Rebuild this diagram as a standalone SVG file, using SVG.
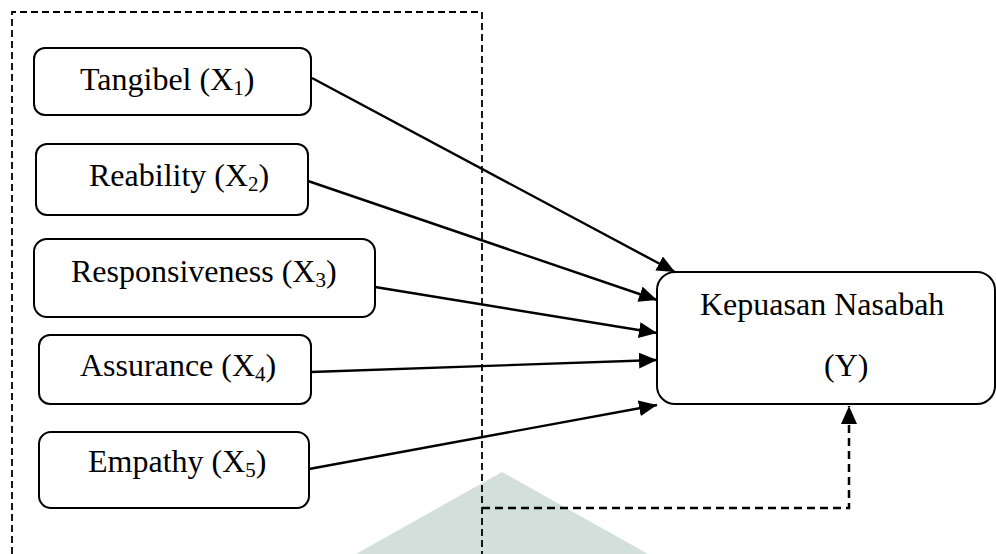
<svg xmlns="http://www.w3.org/2000/svg" width="996" height="554" viewBox="0 0 996 554">
<style>
.box{fill:#fff;stroke:#000;stroke-width:2}
.lbl{font-family:"Liberation Serif","Times New Roman",serif;font-size:32px;fill:#000}
.sub{font-size:21px}
.frame{fill:none;stroke:#000;stroke-width:1.8;stroke-dasharray:7,4}
.edge{fill:none;stroke:#000;stroke-width:2.4}
.dedge{fill:none;stroke:#000;stroke-width:2.5;stroke-dasharray:8,5}
</style>
<defs>
<marker id="ah" markerWidth="18" markerHeight="16" refX="18" refY="8" orient="auto" markerUnits="userSpaceOnUse">
<path d="M0,0 L18,8 L0,16 Z" fill="#000"/>
</marker>
</defs>
<rect width="996" height="554" fill="#fff"/>
<polygon points="502,472 648,554 356,554" fill="#d3dfdb"/>
<path class="frame" d="M12,554 L12,12 L482,12 L482,554"/>
<g id="n1">
<rect class="box" x="34" y="48" width="277" height="67" rx="11"/>
<text class="lbl" x="80" y="90">Tangibel (X<tspan class="sub" dy="5">1</tspan><tspan dy="-5">)</tspan></text>
</g>
<g id="n2">
<rect class="box" x="36" y="144" width="272" height="71" rx="11"/>
<text class="lbl" x="89" y="186">Reability (X<tspan class="sub" dy="5">2</tspan><tspan dy="-5">)</tspan></text>
</g>
<g id="n3">
<rect class="box" x="34" y="239" width="341" height="78" rx="13"/>
<text class="lbl" x="71" y="282">Responsiveness (X<tspan class="sub" dy="5">3</tspan><tspan dy="-5">)</tspan></text>
</g>
<g id="n4">
<rect class="box" x="39" y="335" width="272" height="69" rx="11"/>
<text class="lbl" x="80" y="376">Assurance (X<tspan class="sub" dy="5">4</tspan><tspan dy="-5">)</tspan></text>
</g>
<g id="n5">
<rect class="box" x="39" y="432" width="270" height="76" rx="12"/>
<text class="lbl" x="88" y="472">Empathy (X<tspan class="sub" dy="5">5</tspan><tspan dy="-5">)</tspan></text>
</g>
<g id="y">
<rect class="box" x="657" y="272" width="338" height="132" rx="18"/>
<text class="lbl" x="700" y="315">Kepuasan Nasabah</text>
<text class="lbl" x="824" y="376">(Y)</text>
</g>
<g id="connectors">
<line class="edge" x1="312" y1="78" x2="675" y2="272" marker-end="url(#ah)"/>
<line class="edge" x1="308" y1="181" x2="657" y2="300" marker-end="url(#ah)"/>
<line class="edge" x1="375" y1="287" x2="657" y2="333" marker-end="url(#ah)"/>
<line class="edge" x1="311" y1="372" x2="657" y2="360" marker-end="url(#ah)"/>
<line class="edge" x1="309" y1="469" x2="657" y2="405" marker-end="url(#ah)"/>
<path class="dedge" d="M482,508 L849,508 L849,406" marker-end="url(#ah)"/>
</g>
</svg>
